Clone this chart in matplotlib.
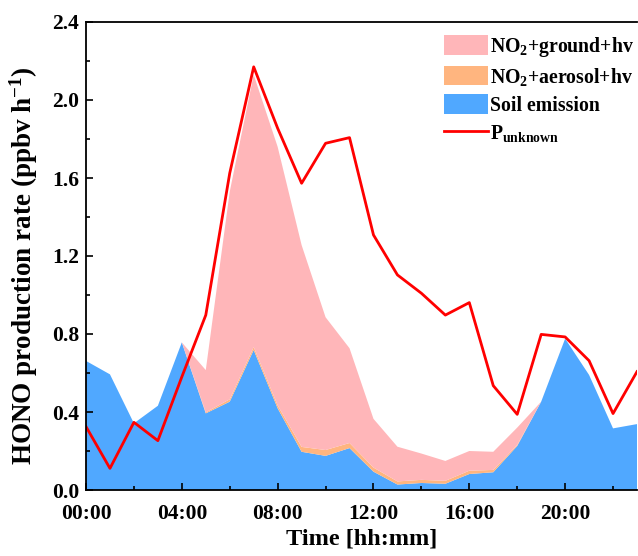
import numpy as np
import matplotlib
matplotlib.use("Agg")
import matplotlib.pyplot as plt
from matplotlib.ticker import MultipleLocator, FuncFormatter

plt.rcParams['font.family'] = 'Liberation Serif'
plt.rcParams['font.weight'] = 'bold'
plt.rcParams['mathtext.fontset'] = 'custom'
plt.rcParams['mathtext.rm'] = 'Liberation Serif:bold'
plt.rcParams['mathtext.it'] = 'Liberation Serif:bold'
plt.rcParams['mathtext.bf'] = 'Liberation Serif:bold'
plt.rcParams['mathtext.default'] = 'rm'

hours = np.arange(24)

soil = [0.662, 0.593, 0.342, 0.432, 0.757, 0.393, 0.453, 0.718, 0.419, 0.196, 0.175, 0.215,
        0.094, 0.028, 0.036, 0.032, 0.082, 0.091, 0.226, 0.453, 0.776, 0.590, 0.316, 0.338]
aerosol = [0, 0, 0, 0, 0, 0.005, 0.012, 0.015, 0.015, 0.025, 0.030, 0.026,
           0.021, 0.016, 0.016, 0.015, 0.017, 0.012, 0.005, 0, 0, 0, 0, 0]
ground = [0, 0, 0, 0, 0, 0.217, 1.065, 1.397, 1.326, 1.035, 0.681, 0.486,
          0.250, 0.178, 0.135, 0.102, 0.101, 0.093, 0.089, 0, 0, 0, 0, 0]
p_unknown = [0.325, 0.111, 0.347, 0.253, 0.58, 0.897, 1.625, 2.17, 1.855, 1.573, 1.778, 1.807,
             1.308, 1.103, 1.009, 0.897, 0.961, 0.535, 0.388, 0.798, 0.785, 0.663, 0.392, 0.607]

fig = plt.figure(figsize=(6.38, 5.56), dpi=100)
ax = fig.add_axes([86/638, 1 - 490/556, (637 - 86)/638, (490 - 22)/556])

polys = ax.stackplot(hours, soil, aerosol, ground,
                     colors=['#50a8ff', '#ffb57f', '#ffb6b9'], linewidth=0)
line, = ax.plot(hours, p_unknown, color='#ff0000', lw=2.0)

ax.set_xlim(0, 23)
ax.set_ylim(0, 2.4)
ax.xaxis.set_major_locator(MultipleLocator(4))
ax.xaxis.set_minor_locator(MultipleLocator(2))
ax.xaxis.set_major_formatter(FuncFormatter(lambda v, p: "%02d:00" % int(v)))
ax.yaxis.set_major_locator(MultipleLocator(0.4))
ax.yaxis.set_minor_locator(MultipleLocator(0.2))
ax.yaxis.set_major_formatter(FuncFormatter(lambda v, p: "%.1f" % v))
ax.tick_params(which='both', direction='in', labelsize=15.5, width=1.2)
ax.tick_params(which='major', length=5)
ax.tick_params(which='minor', length=3)
ax.tick_params(axis='x', pad=10)
ax.tick_params(axis='y', pad=5)
for s in ['left', 'bottom', 'top']:
    ax.spines[s].set_linewidth(1.3)
ax.spines['right'].set_visible(False)

ax.set_xlabel('Time [hh:mm]', fontsize=17.5, fontweight='bold', labelpad=3)
ax.set_ylabel('HONO production rate (ppbv h$^{-1}$)', fontsize=19.5, fontweight='bold')
ax.yaxis.set_label_coords(-0.084, 0.479)

handles = [polys[2], polys[1], polys[0], line]
labels = ['NO$_2$+ground+hv', 'NO$_2$+aerosol+hv', 'Soil emission', 'P$_{\\mathrm{unknown}}$']
ax.legend(handles, labels, loc='upper right', bbox_to_anchor=(1.013, 0.994), frameon=False,
          fontsize=14.2, handlelength=2.23, handleheight=1.12, handletextpad=0.1,
          labelspacing=0.35, borderaxespad=0.1)

fig.savefig('out.png', dpi=100)
